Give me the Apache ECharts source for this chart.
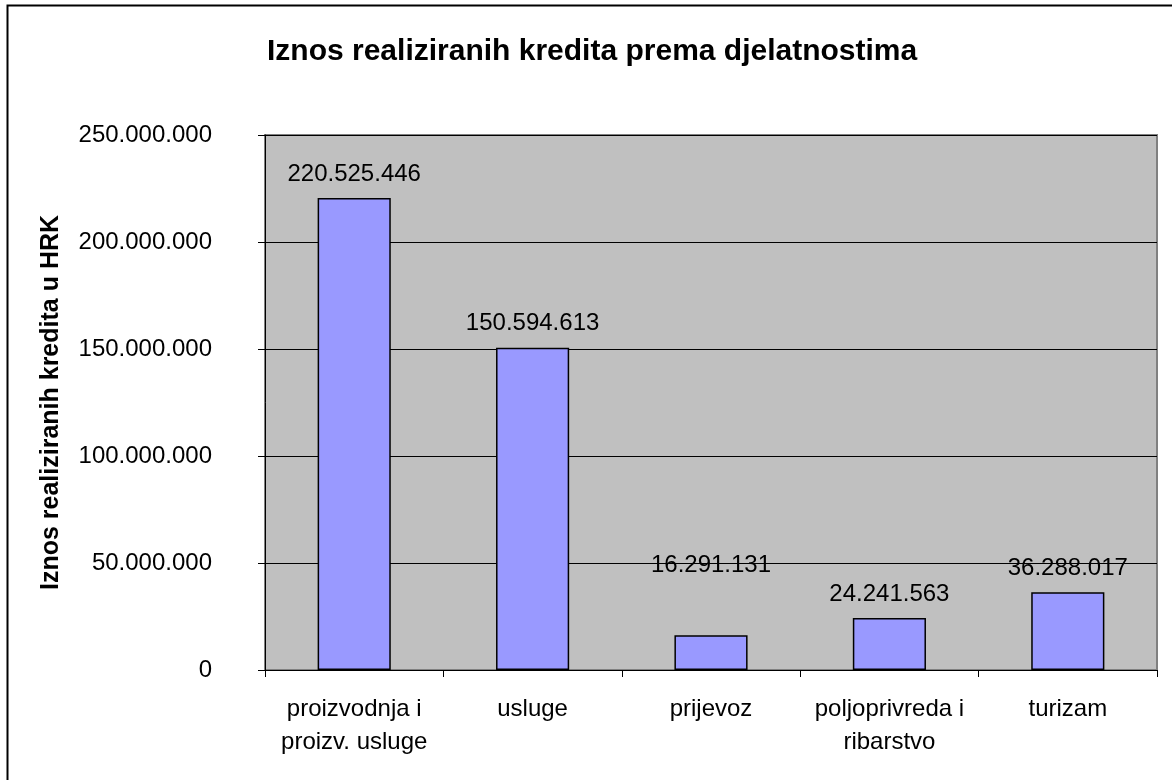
<!DOCTYPE html>
<html>
<head>
<meta charset="utf-8">
<script src="https://cdn.jsdelivr.net/npm/echarts@6/dist/echarts.min.js"></script>
<style>
html, body { margin: 0; padding: 0; background: #fff; }
#chart { width: 1172px; height: 780px; }
</style>
</head>
<body>
<div id="chart"></div>
<script>
var categories = ['proizvodnja i\nproizv. usluge', 'usluge', 'prijevoz', 'poljoprivreda i\nribarstvo', 'turizam'];
var amounts = [220525446, 150594613, 16291131, 24241563, 36288017];
var yTicks = [0, 50000000, 100000000, 150000000, 200000000, 250000000];

function fmt(v) {
    return String(v).replace(/\B(?=(\d{3})+(?!\d))/g, '.');
}

var chart = echarts.init(document.getElementById('chart'));

var barData = amounts.map(function (v, i) {
    var item = { value: v };
    // excel put the prijevoz label well above its bar
    if (i === 2) {
        item.label = { offset: [0, -46] };
    }
    return item;
});

var option = {
    animation: false,
    backgroundColor: '#fff',
    textStyle: { fontFamily: 'Liberation Sans, Arial, sans-serif' },
    title: {
        text: 'Iznos realiziranih kredita prema djelatnostima',
        left: 262,
        top: 32,
        textStyle: { fontSize: 30, fontWeight: 'bold', color: '#000' }
    },
    graphic: [{
        type: 'rect',
        shape: { x: 7.5, y: 5.5, width: 1180, height: 800 },
        style: { fill: null, stroke: '#000', lineWidth: 2 },
        silent: true
    }],
    grid: {
        left: 265,
        top: 135,
        right: 15,
        bottom: 110,
        show: true,
        backgroundColor: '#c0c0c0',
        borderColor: '#808080',
        borderWidth: 2
    },
    xAxis: {
        type: 'category',
        data: categories,
        axisLine: { lineStyle: { color: '#000', width: 1 } },
        axisTick: { show: true, alignWithLabel: false, interval: 0, length: 7, lineStyle: { color: '#000' } },
        axisLabel: { color: '#000', fontSize: 24, lineHeight: 33, margin: 23, interval: 0, hideOverlap: false }
    },
    yAxis: {
        type: 'value',
        min: 0,
        max: yTicks[yTicks.length - 1],
        interval: yTicks[1] - yTicks[0],
        name: 'Iznos realiziranih kredita u HRK',
        nameLocation: 'middle',
        nameGap: 201,
        nameTextStyle: { fontSize: 25, fontWeight: 'bold', color: '#000' },
        axisLine: { show: true, lineStyle: { color: '#000' } },
        axisTick: { show: true, length: 7, lineStyle: { color: '#000' } },
        axisLabel: { color: '#000', fontSize: 24, margin: 53, formatter: fmt },
        splitLine: { lineStyle: { color: '#000', width: 1 } }
    },
    series: [{
        type: 'bar',
        data: barData,
        barWidth: '41%',
        itemStyle: { color: '#9999ff', borderColor: '#000', borderWidth: 1.5 },
        label: {
            show: true,
            position: 'top',
            distance: 12,
            color: '#000',
            fontSize: 24,
            formatter: function (p) { return fmt(p.value); }
        }
    }]
};

chart.setOption(option);
</script>
</body>
</html>
